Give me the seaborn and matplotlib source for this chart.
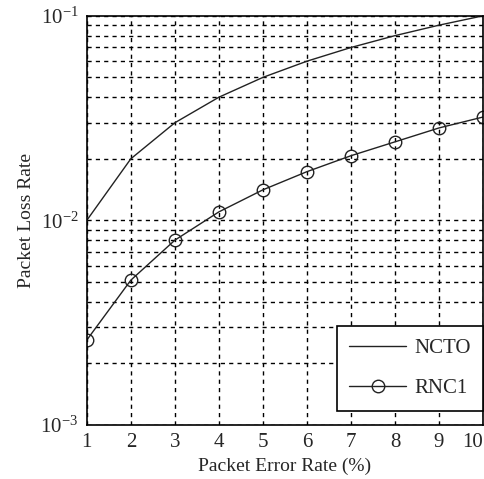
import pandas as pd
import seaborn as sns
import matplotlib.pyplot as plt

per = [1, 2, 3, 4, 5, 6, 7, 8, 9, 10]
ncto = [0.010, 0.020, 0.030, 0.040, 0.050, 0.060, 0.070, 0.080, 0.090, 0.100]
rnc1 = [0.0026, 0.0051, 0.0080, 0.0110, 0.0141, 0.0173, 0.0207, 0.0242, 0.0283, 0.0320]

df = pd.DataFrame({"per": per, "NCTO": ncto, "RNC1": rnc1})

sns.set_style("white")
plt.rcParams['font.family'] = ['Liberation Serif', 'DejaVu Serif']
plt.rcParams['mathtext.fontset'] = 'stix'

fig = plt.figure(figsize=(4.85, 4.79), dpi=100)
ax = fig.add_axes([0.179, 0.113, 0.817, 0.854])

sns.lineplot(data=df, x="per", y="NCTO", color="#222222", linewidth=1.0,
             label="NCTO", ax=ax)
sns.lineplot(data=df, x="per", y="RNC1", color="#222222", linewidth=1.0,
             marker="o", markersize=9, markerfacecolor="none",
             markeredgecolor="#222222", markeredgewidth=1.0,
             label="RNC1", ax=ax)

ax.set_yscale("log")
ax.set_xlim(1, 10)
ax.set_ylim(1e-3, 1e-1)
ax.set_xticks(per)
ax.grid(True, which="both", color="black", linestyle=(0, (3, 3)), linewidth=1.0)
for s in ax.spines.values():
    s.set_color("black")
    s.set_linewidth(1.2)
ax.tick_params(which="both", direction="in", length=0, labelsize=15, pad=6)
ax.get_xticklabels()[-1].set_horizontalalignment("right")
ax.set_xlabel("Packet Error Rate (%)", fontsize=14)
ax.set_ylabel("Packet Loss Rate", fontsize=14)

leg = ax.legend(loc="lower right", bbox_to_anchor=(1.0, 0.034), borderaxespad=0,
                fontsize=15, frameon=True, fancybox=False, edgecolor="black",
                handlelength=2.7, handletextpad=0.4, labelspacing=1.0,
                borderpad=0.6, framealpha=1)
leg.get_frame().set_linewidth(1.2)

fig.savefig("out.png", dpi=100)
